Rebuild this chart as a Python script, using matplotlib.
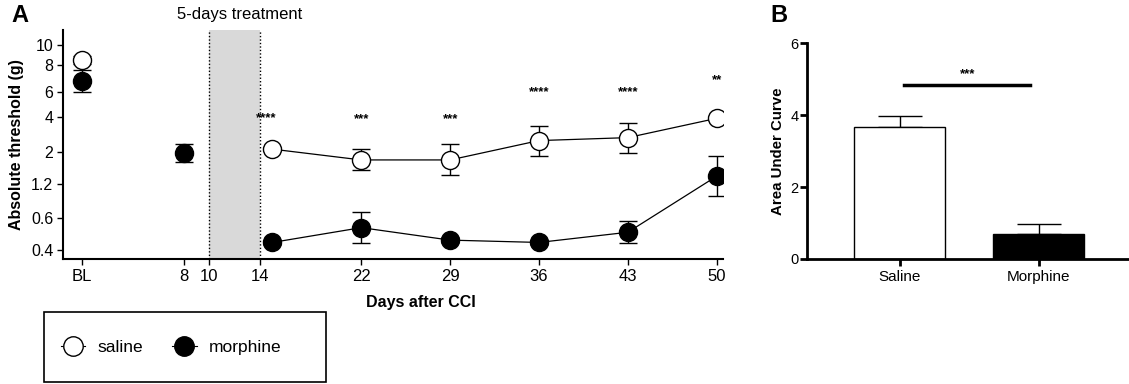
import numpy as np
import matplotlib
matplotlib.use("Agg")
import matplotlib.pyplot as plt
from matplotlib.lines import Line2D
from matplotlib.patches import Rectangle
from matplotlib.ticker import NullLocator

plt.rcParams['font.family'] = ['Liberation Sans', 'DejaVu Sans']

# ---------------- data ----------------
# Panel A: von Frey thresholds (g)
x_ticks = [0, 8, 10, 14, 22, 29, 36, 43, 50]
x_ticklabels = ['BL', '8', '10', '14', '22', '29', '36', '43', '50']
y_ticks = [0.4, 0.6, 1.2, 2, 4, 6, 8, 10]
y_ticklabels = ['0.4', '0.6', '1.2', '2', '4', '6', '8', '10']

saline_days = [0, 15, 22, 29, 36, 43, 50]
saline_mean = [8.5, 2.11, 1.76, 1.76, 2.50, 2.65, 3.88]
saline_lo = [8.1, 2.02, 1.49, 1.39, 1.88, 1.97, 3.72]
saline_hi = [8.9, 2.22, 2.10, 2.32, 3.33, 3.56, 4.05]

morphine_days = [0, 8, 15, 22, 29, 36, 43, 50]
morphine_mean = [6.7, 1.97, 0.44, 0.53, 0.453, 0.44, 0.50, 1.36]
morphine_lo = [5.98, 1.70, 0.425, 0.436, 0.435, 0.425, 0.436, 0.93]
morphine_hi = [7.57, 2.32, 0.455, 0.67, 0.47, 0.455, 0.574, 1.86]

sig_days = [15, 22, 29, 36, 43, 50]
sig_labels = ['****', '***', '***', '****', '****', '**']
sig_y = [3.9, 3.85, 3.8, 5.9, 5.9, 6.8]

# filament scale (grams -> evaluator size) used by the y axis
filament_g = [0.16, 0.4, 0.6, 1.2, 2, 4, 6, 8, 10, 15]
filament_size = [3.22, 3.61, 3.84, 4.08, 4.31, 4.56, 4.74, 4.93, 5.07, 5.18]

# Panel B: AUC
groups = ['Saline', 'Morphine']
auc_mean = [3.68, 0.70]
auc_err = [0.30, 0.26]
auc_sig = '***'
auc_sig_y = 4.83

# ---------------- scale helpers ----------------
LG = np.log10(np.array(filament_g, float))
SZ = np.array(filament_size, float)


def _pl(x, xp, fp):
    x = np.asarray(x, float)
    y = np.interp(x, xp, fp)
    y = np.where(x < xp[0], fp[0] + (x - xp[0]) * (fp[1] - fp[0]) / (xp[1] - xp[0]), y)
    y = np.where(x > xp[-1], fp[-1] + (x - xp[-1]) * (fp[-1] - fp[-2]) / (xp[-1] - xp[-2]), y)
    return y


def fwd(g):
    g = np.clip(np.asarray(g, float), 1e-9, None)
    return _pl(np.log10(g), LG, SZ)


def inv(s):
    return 10 ** _pl(s, SZ, LG)


# ---------------- figure ----------------
W, H = 1129, 384
fig = plt.figure(figsize=(W / 100, H / 100), dpi=100)


def fx(px):
    return px / W


def fy(py):
    return 1 - py / H


axA = fig.add_axes([fx(63), fy(259), fx(723) - fx(63), fy(30) - fy(259)])
axA.set_yscale('function', functions=(fwd, inv))
axA.set_xlim(-1.5, 50.5)
axA.set_ylim(inv(3.546), inv(5.179))

axA.axvspan(10, 14, color='#d9d9d9', zorder=0, lw=0)
for xv in (10, 14):
    axA.axvline(xv, color='black', ls=(0, (1, 1.5)), lw=1.0, zorder=1)


def draw_series(days, mean, lo, hi, face):
    days = np.array(days)
    mean = np.array(mean)
    yerr = [mean - np.array(lo), np.array(hi) - mean]
    axA.errorbar(days, mean, yerr=yerr, fmt='none', ecolor='black',
                 elinewidth=1.0, capsize=6.5, capthick=1.0, zorder=2)
    m = days >= 15
    axA.plot(days[m], mean[m], color='black', lw=0.9, zorder=2)
    axA.plot(days, mean, ls='none', marker='o', ms=13, mfc=face,
             mec='black', mew=1.0, zorder=3)


draw_series(saline_days, saline_mean, saline_lo, saline_hi, 'white')
draw_series(morphine_days, morphine_mean, morphine_lo, morphine_hi, 'black')

for d, lab, yv in zip(sig_days, sig_labels, sig_y):
    xd = d - 0.5 if d == 15 else d
    axA.text(xd, yv, lab, ha='center', va='center', fontsize=9.5, fontweight='bold')

axA.set_xticks(x_ticks)
axA.set_xticklabels(x_ticklabels, fontsize=12)
axA.set_yticks(y_ticks)
axA.set_yticklabels(y_ticklabels, fontsize=11.5)
axA.yaxis.set_minor_locator(NullLocator())
axA.tick_params(axis='both', length=4, width=1.0, pad=3)
for s in ('top', 'right'):
    axA.spines[s].set_visible(False)
for s in ('left', 'bottom'):
    axA.spines[s].set_linewidth(1.5)
axA.set_ylabel('Absolute threshold (g)', fontsize=11.5, fontweight='bold')
axA.set_xlabel('Days after CCI', fontsize=11.5, fontweight='bold')
axA.yaxis.set_label_coords(-(63 - 17) / 660, 0.5)
axA.xaxis.set_label_coords((421 - 63) / 660, -(302 - 259) / 229)
axA.xaxis.label.set_va('center')
axA.yaxis.label.set_va('center')

fig.text(fx(240), fy(15), '5-days treatment', ha='center', va='center', fontsize=12)
fig.text(fx(11), fy(15), 'A', ha='left', va='center', fontsize=17, fontweight='bold')

# legend
fig.patches.append(Rectangle((fx(44), fy(382)), fx(326) - fx(44), fy(312) - fy(382),
                             transform=fig.transFigure, fill=False, ec='black', lw=1.2))
h1 = Line2D([], [], color='black', lw=0.8, marker='o', ms=14, mfc='white', mec='black')
h2 = Line2D([], [], color='black', lw=0.8, marker='o', ms=14, mfc='black', mec='black')
fig.legend([h1, h2], ['saline', 'morphine'], loc='center left',
           bbox_to_anchor=(fx(45), fy(347)), ncol=2, frameon=False,
           fontsize=12.5, handlelength=1.4, handletextpad=0.7, columnspacing=1.7)

# ---------------- panel B ----------------
axB = fig.add_axes([fx(806.7), fy(259), fx(1129) - fx(806.7), fy(43.3) - fy(259)])
xb = np.arange(len(groups))
axB.bar(xb, auc_mean, width=0.655, color=['white', 'black'], edgecolor='black',
        linewidth=1.0, zorder=2)
axB.errorbar(xb, auc_mean, yerr=[[0, 0], auc_err], fmt='none', ecolor='black',
             elinewidth=1.0, capsize=16, capthick=1.0, zorder=1)
axB.set_xlim(-0.67, 1.65)
axB.set_ylim(0, 6)
axB.set_yticks([0, 2, 4, 6])
axB.set_yticklabels(['0', '2', '4', '6'], fontsize=10.5)
axB.set_xticks(xb)
axB.set_xticklabels(groups, fontsize=11)
axB.tick_params(axis='both', length=5, width=2.0, pad=3)
axB.tick_params(axis='y', pad=1)
for s in ('top', 'right'):
    axB.spines[s].set_visible(False)
for s in ('left', 'bottom'):
    axB.spines[s].set_linewidth(2.0)
axB.set_ylabel('Area Under Curve', fontsize=10.8, fontweight='bold', labelpad=4)
axB.plot([0.03, 0.94], [auc_sig_y, auc_sig_y], color='black', lw=2.5, clip_on=False)
axB.text(0.485, auc_sig_y + 0.3, auc_sig, ha='center', va='center', fontsize=9.5, fontweight='bold')
fig.text(fx(770), fy(16), 'B', ha='left', va='center', fontsize=17, fontweight='bold')

fig.savefig('out.png', dpi=100)
